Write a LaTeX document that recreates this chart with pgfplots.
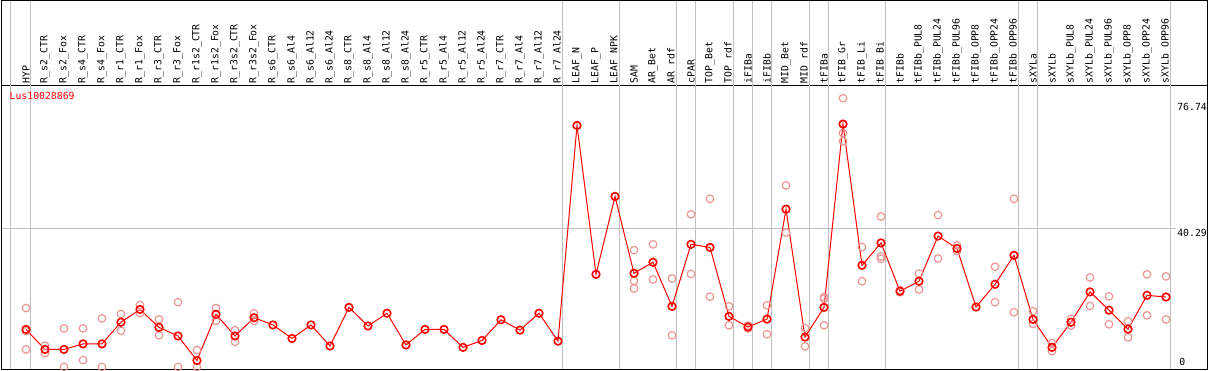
\documentclass[border=0pt]{standalone}
\usepackage{pgfplots}
\pgfplotsset{compat=1.18}
\usepackage{fontspec}
\setmainfont{DejaVu Sans Mono}
\definecolor{sep}{RGB}{192,192,192}
\definecolor{rep}{RGB}{236,150,150}
\pgfplotstableread{
x y
0 10.9
1 5.1
2 5.1
3 6.7
4 6.7
5 13.0
6 16.7
7 11.5
8 9.0
9 1.9
10 15.3
11 9.0
12 14.3
13 12.2
14 8.3
15 12.2
16 6.1
17 17.3
18 11.9
19 15.6
20 6.4
21 10.9
22 10.9
23 5.7
24 7.7
25 13.7
26 10.7
27 15.6
28 7.5
29 70.1
30 26.9
31 49.5
32 27.2
33 30.4
34 17.6
35 35.6
36 34.7
37 14.7
38 11.6
39 13.9
40 45.8
41 8.7
42 17.3
43 70.5
44 29.5
45 36.0
46 22.0
47 24.9
48 38.0
49 34.4
50 17.4
51 24.0
52 32.4
53 13.8
54 5.7
55 13.0
56 21.8
57 16.5
58 11.0
59 20.8
60 20.3
}\meantab
\pgfplotstableread{
x y
0 17.1
0 10.4
0 5.1
1 6.2
1 4.0
2 11.2
2 0
3 11.2
3 2.0
4 14.1
4 0
5 15.4
5 10.5
6 18.0
6 15.6
7 13.8
7 9.2
8 18.8
8 0
9 4.9
9 0
10 17.1
10 13.4
11 10.7
11 7.3
12 15.6
12 13.4
32 33.9
32 25.0
32 22.8
33 35.6
33 25.4
34 25.7
34 9.2
35 44.3
35 27.0
36 48.8
36 20.4
37 17.6
37 12.1
38 12.0
38 11.2
39 17.9
39 9.5
40 52.7
40 39.0
41 11.3
41 6.0
42 20.3
42 19.8
42 12.1
43 78.0
43 67.9
43 65.5
44 34.8
44 24.9
45 43.7
45 32.1
45 31.4
46 22.3
46 21.7
47 27.1
47 22.5
48 44.1
48 31.5
49 35.3
49 33.7
51 29.1
51 18.8
52 48.8
52 15.9
53 16.2
53 12.5
54 6.9
54 4.6
55 14.0
55 12.0
56 26.0
56 17.7
57 20.5
57 12.4
58 13.3
58 8.6
59 26.9
59 15.0
60 26.3
60 13.8
}\reptab
\begin{document}
\begin{tikzpicture}
\begin{axis}[name=ax, scale only axis, width=1206pt, height=283.5pt,
  xmin=-1.289, xmax=62.184, ymin=-0.58, ymax=81.69,
  axis line style={black, line width=1pt},
  xtick={0,...,60},
  xticklabels={HYP, R\_s2\_CTR, R\_s2\_Fox, R\_s4\_CTR, R\_s4\_Fox, R\_r1\_CTR, R\_r1\_Fox, R\_r3\_CTR, R\_r3\_Fox, R\_r1s2\_CTR, R\_r1s2\_Fox, R\_r3s2\_CTR, R\_r3s2\_Fox, R\_s6\_CTR, R\_s6\_Al4, R\_s6\_Al12, R\_s6\_Al24, R\_s8\_CTR, R\_s8\_Al4, R\_s8\_Al12, R\_s8\_Al24, R\_r5\_CTR, R\_r5\_Al4, R\_r5\_Al12, R\_r5\_Al24, R\_r7\_CTR, R\_r7\_Al4, R\_r7\_Al12, R\_r7\_Al24, LEAF\_N, LEAF\_P, LEAF\_NPK, SAM, AR\_Bet, AR\_rdf, cPAR, TOP\_Bet, TOP\_rdf, iFIBa, iFIBb, MID\_Bet, MID\_rdf, tFIBa, tFIB\_Gr, tFIB\_Li, tFIB\_Bi, tFIBb, tFIBb\_PUL8, tFIBb\_PUL24, tFIBb\_PUL96, tFIBb\_OPP8, tFIBb\_OPP24, tFIBb\_OPP96, sXYLa, sXYLb, sXYLb\_PUL8, sXYLb\_PUL24, sXYLb\_PUL96, sXYLb\_OPP8, sXYLb\_OPP24, sXYLb\_OPP96},
  xticklabel pos=right,
  major tick length=0pt,
  xticklabel style={rotate=90, anchor=west, inner sep=0pt, font=\fontsize{9.8}{10}\selectfont},
  xticklabel shift=2pt,
  ytick=\empty,
  clip=false,
]
\pgfplotsinvokeforeach{-0.83,0.23,28.23,31.23,34.23,35.23,37.23,38.23,39.23,41.23,42.23,45.23,52.23,53.23,60.23}{
  \draw[sep, line width=1pt] (axis cs:#1,-0.58) -- (axis cs:#1,106.36);
}
\draw[sep, line width=1pt] (axis cs:-1.289,40.29) -- (axis cs:60.53,40.29);
\draw[black, line width=1pt] (axis cs:-1.289,81.69) -- (axis cs:-1.289,106.36) -- (axis cs:62.184,106.36) -- (axis cs:62.184,81.69);
\addplot[only marks, mark=o, mark size=3.8pt, mark options={draw=rep, line width=1.2pt}] table[x=x,y=y] {\reptab};
\addplot[red, line width=1pt, mark=o, mark size=3.8pt, mark options={draw=red, line width=1.6pt}] table[x=x,y=y] {\meantab};
\node[anchor=north west, inner sep=0pt, text=red, font=\fontsize{9.8}{10}\selectfont] at ([xshift=8pt,yshift=-6.5pt]rel axis cs:0,1) {Lus10028869};
\node[anchor=north east, inner sep=0pt, font=\fontsize{9.8}{10}\selectfont] at ([xshift=-0.5pt,yshift=-0.5pt]axis cs:62.184,76.74) {76.74};
\node[anchor=north east, inner sep=0pt, font=\fontsize{9.8}{10}\selectfont] at ([xshift=-0.5pt,yshift=-0.5pt]axis cs:62.184,40.29) {40.29};
\node[anchor=south east, inner sep=0pt, font=\fontsize{9.8}{10}\selectfont] at ([xshift=-22pt,yshift=1.5pt]axis cs:62.184,0) {0};
\end{axis}
\pgfresetboundingbox
\path ([xshift=-1.5pt,yshift=-1pt]ax.south west) rectangle ([xshift=1.5pt,yshift=85.5pt]ax.north east);
\end{tikzpicture}
\end{document}
